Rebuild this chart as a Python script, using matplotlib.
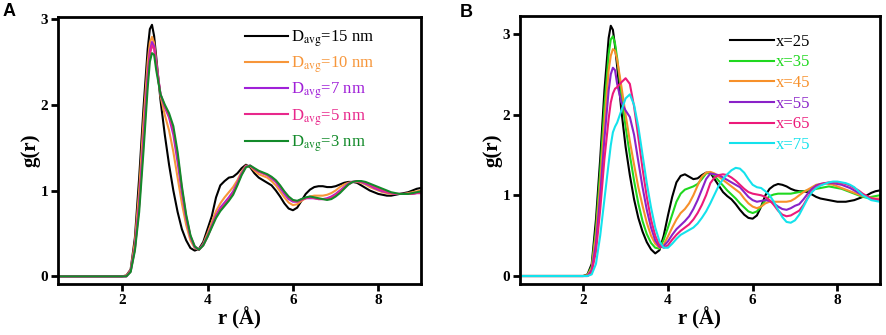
import matplotlib
matplotlib.use('Agg')
import matplotlib.pyplot as plt

plt.rcParams['font.family'] = ['Liberation Serif', 'DejaVu Serif']
plt.rcParams['mathtext.fontset'] = 'stix'

# sampling positions r (Å), shared by all curves of a panel
r = [0.5, 2.0, 2.1, 2.2, 2.3, 2.4, 2.5, 2.6, 2.65, 2.7, 2.75,
     2.8, 2.9, 3.0, 3.1, 3.2, 3.3, 3.4, 3.5, 3.6, 3.7,
     3.8, 3.9, 4.0, 4.1, 4.2, 4.3, 4.4, 4.5, 4.6, 4.7,
     4.8, 4.9, 5.0, 5.1, 5.2, 5.3, 5.4, 5.5, 5.6, 5.7,
     5.8, 5.9, 6.0, 6.1, 6.2, 6.3, 6.4, 6.5, 6.6, 6.7,
     6.8, 6.9, 7.0, 7.1, 7.2, 7.3, 7.4, 7.5, 7.6, 7.7,
     7.8, 7.9, 8.0, 8.1, 8.2, 8.3, 8.4, 8.5, 8.6, 8.7,
     8.8, 8.9, 9.0]

# panel A: g(r) for different particle sizes
g_15nm = [0, 0, 0.01, 0.08, 0.45, 1.15, 1.95, 2.65, 2.88, 2.93, 2.8,
          2.55, 2.05, 1.65, 1.3, 1.0, 0.75, 0.55, 0.42, 0.33, 0.30,
          0.32, 0.4, 0.55, 0.7, 0.92, 1.06, 1.11, 1.15, 1.16, 1.2,
          1.26, 1.30, 1.27, 1.2, 1.15, 1.12, 1.09, 1.06, 1.0, 0.93,
          0.85, 0.79, 0.77, 0.8, 0.88, 0.96, 1.01, 1.04, 1.05, 1.05,
          1.04, 1.04, 1.05, 1.07, 1.09, 1.1, 1.1, 1.09, 1.06, 1.03,
          1.0, 0.98, 0.96, 0.95, 0.94, 0.94, 0.95, 0.96, 0.97, 0.98,
          1.0, 1.02, 1.03]
g_10nm = [0, 0, 0.01, 0.07, 0.4, 1.0, 1.8, 2.5, 2.72, 2.79, 2.72,
          2.5, 2.1, 1.88, 1.7, 1.45, 1.15, 0.85, 0.6, 0.42, 0.33,
          0.31, 0.38, 0.5, 0.63, 0.76, 0.85, 0.92, 0.98, 1.04, 1.12,
          1.22, 1.29, 1.28, 1.23, 1.19, 1.17, 1.15, 1.11, 1.06, 0.99,
          0.92, 0.86, 0.83, 0.84, 0.88, 0.91, 0.93, 0.94, 0.94, 0.94,
          0.95, 0.97, 1.0, 1.04, 1.07, 1.09, 1.1, 1.1, 1.09, 1.07,
          1.04, 1.02, 1.0, 0.98, 0.97, 0.96, 0.96, 0.96, 0.96, 0.97,
          0.98, 0.99, 1.0]
g_7nm = [0, 0, 0.0, 0.06, 0.33, 0.85, 1.6, 2.35, 2.62, 2.73, 2.68,
         2.48, 2.12, 1.97, 1.85, 1.65, 1.33, 0.98, 0.68, 0.46, 0.34,
         0.31, 0.37, 0.47, 0.59, 0.71, 0.8, 0.86, 0.92, 0.99, 1.09,
         1.2, 1.28, 1.29, 1.25, 1.22, 1.2, 1.18, 1.14, 1.1, 1.03,
         0.96, 0.9, 0.87, 0.87, 0.9, 0.91, 0.91, 0.91, 0.9, 0.9,
         0.91, 0.93, 0.96, 1.0, 1.04, 1.08, 1.1, 1.11, 1.1, 1.08,
         1.06, 1.03, 1.01, 0.99, 0.98, 0.97, 0.96, 0.96, 0.96, 0.96,
         0.96, 0.97, 0.97]
g_5nm = [0, 0, 0.0, 0.06, 0.32, 0.82, 1.55, 2.3, 2.58, 2.69, 2.65,
         2.46, 2.12, 1.98, 1.87, 1.7, 1.4, 1.02, 0.7, 0.47, 0.35,
         0.31, 0.36, 0.46, 0.58, 0.7, 0.78, 0.84, 0.9, 0.97, 1.08,
         1.19, 1.28, 1.29, 1.25, 1.22, 1.2, 1.18, 1.15, 1.11, 1.05,
         0.98, 0.92, 0.88, 0.87, 0.89, 0.91, 0.92, 0.91, 0.9, 0.9,
         0.9, 0.92, 0.95, 0.99, 1.03, 1.07, 1.1, 1.11, 1.1, 1.09,
         1.07, 1.04, 1.02, 1.0, 0.98, 0.97, 0.96, 0.96, 0.96, 0.96,
         0.96, 0.97, 0.97]
g_3nm = [0, 0, 0.0, 0.05, 0.3, 0.75, 1.45, 2.2, 2.5, 2.6, 2.58,
         2.4, 2.12, 2.0, 1.9, 1.75, 1.45, 1.05, 0.72, 0.48, 0.35,
         0.31, 0.36, 0.46, 0.57, 0.68, 0.76, 0.82, 0.88, 0.95, 1.06,
         1.18, 1.27, 1.29, 1.26, 1.23, 1.21, 1.19, 1.16, 1.12, 1.06,
         0.99, 0.93, 0.89, 0.88, 0.9, 0.92, 0.93, 0.92, 0.91, 0.9,
         0.89, 0.9, 0.93, 0.97, 1.02, 1.07, 1.1, 1.11, 1.11, 1.1,
         1.08, 1.06, 1.04, 1.02, 1.0, 0.98, 0.97, 0.96, 0.96, 0.96,
         0.97, 0.98, 0.99]

# panel B: g(r) for different x
g_x25 = [0, 0, 0.02, 0.15, 0.7, 1.45, 2.3, 2.95, 3.1, 3.05, 2.85,
         2.6, 2.05, 1.6, 1.25, 0.95, 0.72, 0.55, 0.42, 0.33, 0.28,
         0.32, 0.5, 0.75, 0.98, 1.16, 1.24, 1.26, 1.23, 1.2, 1.21,
         1.25, 1.28, 1.28, 1.2, 1.12, 1.04, 0.99, 0.95, 0.89, 0.82,
         0.76, 0.72, 0.71, 0.75, 0.86, 1.0, 1.08, 1.12, 1.14, 1.13,
         1.11, 1.08, 1.06, 1.05, 1.05, 1.04, 1.01, 0.98, 0.96, 0.95,
         0.94, 0.93, 0.92, 0.92, 0.92, 0.93, 0.94, 0.96, 0.98, 1.0,
         1.03, 1.05, 1.06]
g_x35 = [0, 0, 0.01, 0.12, 0.58, 1.3, 2.1, 2.75, 2.93, 2.97, 2.88,
         2.7, 2.25, 1.85, 1.5, 1.18, 0.9, 0.68, 0.52, 0.41, 0.35,
         0.34, 0.45, 0.6, 0.76, 0.92, 1.02, 1.07, 1.09, 1.11, 1.14,
         1.2, 1.27, 1.28, 1.24, 1.18, 1.12, 1.06, 1.01, 0.96, 0.9,
         0.85, 0.8, 0.78, 0.8, 0.86, 0.94, 0.99, 1.01, 1.02, 1.02,
         1.02, 1.02, 1.03, 1.04, 1.05, 1.06, 1.07, 1.08, 1.09, 1.1,
         1.11, 1.1, 1.09, 1.08, 1.06, 1.04, 1.02, 1.0, 0.98, 0.97,
         0.98, 0.99, 1.0]
g_x45 = [0, 0, 0.01, 0.1, 0.5, 1.15, 1.9, 2.55, 2.73, 2.81, 2.79,
         2.68, 2.35, 2.0, 1.67, 1.38, 1.1, 0.87, 0.66, 0.5, 0.4,
         0.35, 0.39, 0.49, 0.6, 0.7, 0.78, 0.83, 0.9, 1.0, 1.12,
         1.23, 1.28, 1.29, 1.27, 1.23, 1.19, 1.15, 1.11, 1.07, 1.03,
         0.96, 0.9, 0.86, 0.84, 0.86, 0.9, 0.92, 0.92, 0.92, 0.92,
         0.92, 0.93, 0.96, 1.0, 1.04, 1.07, 1.1, 1.13, 1.14, 1.15,
         1.14, 1.13, 1.11, 1.09, 1.07, 1.05, 1.03, 1.01, 0.99, 0.98,
         0.97, 0.96, 0.96]
g_x55 = [0, 0, 0.0, 0.07, 0.4, 1.0, 1.7, 2.3, 2.5, 2.58, 2.55,
         2.38, 2.15, 2.05, 1.97, 1.75, 1.42, 1.1, 0.82, 0.6, 0.44,
         0.36, 0.37, 0.43, 0.51, 0.58, 0.63, 0.68, 0.74, 0.83, 0.94,
         1.07, 1.2, 1.27, 1.26, 1.25, 1.22, 1.19, 1.16, 1.13, 1.1,
         1.04, 0.98, 0.94, 0.92, 0.93, 0.94, 0.93, 0.9, 0.86, 0.83,
         0.82, 0.84, 0.87, 0.89, 0.95, 1.02, 1.08, 1.12, 1.14, 1.15,
         1.15, 1.15, 1.14, 1.13, 1.11, 1.09, 1.06, 1.03, 1.0, 0.98,
         0.96, 0.95, 0.94]
g_x65 = [0, 0, 0.0, 0.05, 0.3, 0.82, 1.45, 1.95, 2.15, 2.26, 2.32,
         2.34, 2.4, 2.45, 2.38, 2.1, 1.72, 1.33, 0.98, 0.7, 0.5,
         0.38, 0.35, 0.38, 0.45, 0.51, 0.56, 0.6, 0.64, 0.7, 0.78,
         0.88, 1.0, 1.15, 1.22, 1.25, 1.26, 1.25, 1.22, 1.18, 1.13,
         1.08, 1.04, 1.02, 1.01, 1.0, 0.98, 0.94, 0.88, 0.81, 0.76,
         0.74, 0.75, 0.78, 0.81, 0.88, 0.97, 1.05, 1.1, 1.13, 1.15,
         1.16, 1.16, 1.16, 1.15, 1.14, 1.12, 1.09, 1.06, 1.02, 0.99,
         0.96, 0.95, 0.94]
g_x75 = [0, 0, 0.0, 0.02, 0.15, 0.5, 0.95, 1.4, 1.62, 1.78, 1.85,
         1.9, 2.05, 2.2, 2.25, 2.12, 1.85, 1.5, 1.15, 0.85, 0.6,
         0.43, 0.35, 0.35, 0.4, 0.46, 0.51, 0.54, 0.57, 0.6, 0.65,
         0.72, 0.8, 0.9, 1.01, 1.12, 1.2, 1.26, 1.31, 1.34, 1.33,
         1.28, 1.2, 1.13, 1.1, 1.09, 1.05, 1.0, 0.92, 0.82, 0.73,
         0.67, 0.66, 0.69, 0.76, 0.86, 0.96, 1.04, 1.09, 1.12, 1.14,
         1.16, 1.17, 1.17, 1.16, 1.15, 1.13, 1.1, 1.05, 1.0, 0.97,
         0.94, 0.93, 0.92]

labels_a = [r'D$_{\mathrm{avg}}$=15 nm', r'D$_{\mathrm{avg}}$=10 nm',
            r'D$_{\mathrm{avg}}$=7 nm', r'D$_{\mathrm{avg}}$=5 nm',
            r'D$_{\mathrm{avg}}$=3 nm']
colors_a = ['#000000', '#F7963A', '#A020D8', '#E8288C', '#138A2A']
labels_b = ['x=25', 'x=35', 'x=45', 'x=55', 'x=65', 'x=75']
colors_b = ['#000000', '#1FD81F', '#F7902A', '#8A22C8', '#EC1A7A', '#14E2EC']

fig = plt.figure(figsize=(8.86, 3.35), dpi=100)
ax1 = fig.add_axes([0.0655, 0.152, 0.4097, 0.797])
ax2 = fig.add_axes([0.5866, 0.152, 0.4063, 0.800])


def style(ax, ylim):
    ax.set_xlim(0.5, 9.0)
    ax.set_ylim(*ylim)
    ax.set_xticks([2, 4, 6, 8])
    ax.set_yticks([0, 1, 2, 3])
    for s in ax.spines.values():
        s.set_linewidth(2.0)
    ax.tick_params(direction='out', length=5, width=2, labelsize=11,
                   pad=2, top=False, right=False)
    for t in ax.get_xticklabels() + ax.get_yticklabels():
        t.set_fontweight('bold')
    ax.set_xlabel('r (Å)', fontsize=15, fontweight='bold', labelpad=0)
    ax.set_ylabel('g(r)', fontsize=15, fontweight='bold', labelpad=0)


for g, c, lab in zip([g_15nm, g_10nm, g_7nm, g_5nm, g_3nm], colors_a, labels_a):
    ax1.plot(r, g, color=c, lw=1.5, label=lab)
style(ax1, (-0.09, 3.02))
ax1.legend(loc='upper left', bbox_to_anchor=(0.515, 0.958), frameon=False,
           fontsize=12, handlelength=2.6, handletextpad=0.15,
           labelspacing=0.34, borderpad=0, borderaxespad=0,
           labelcolor='linecolor')

for g, c, lab in zip([g_x25, g_x35, g_x45, g_x55, g_x65, g_x75], colors_b, labels_b):
    ax2.plot(r, g, color=c, lw=1.5, label=lab)
style(ax2, (-0.1, 3.22))
ax2.legend(loc='upper left', bbox_to_anchor=(0.585, 0.934), frameon=False,
           fontsize=12, handlelength=2.6, handletextpad=0.15,
           labelspacing=0.28, borderpad=0, borderaxespad=0,
           labelcolor='linecolor')

fig.text(0.003, 0.965, 'A', fontsize=13, fontweight='bold',
         family='Liberation Sans', va='center')
fig.text(0.519, 0.962, 'B', fontsize=13, fontweight='bold',
         family='Liberation Sans', va='center')

fig.savefig('out.png', dpi=100)
